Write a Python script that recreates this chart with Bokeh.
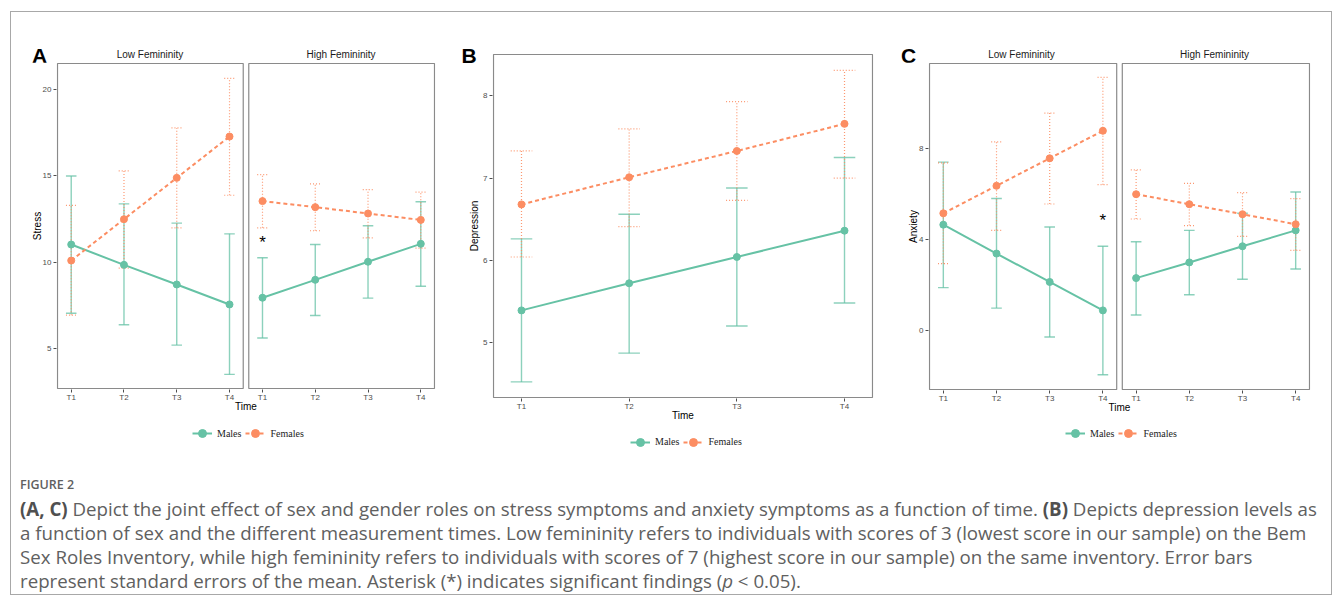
from bokeh.plotting import figure
from bokeh.models import Range1d, FixedTicker, BoxAnnotation, Label, Legend, LegendItem, Div, Spacer
from bokeh.layouts import row, column
from bokeh.embed import file_html
from bokeh.resources import INLINE

# ---------------- data ----------------
times = ["T1", "T2", "T3", "T4"]
facets = ["Low Femininity", "High Femininity"]
sexes = ["Males", "Females"]

# (A) Stress
stress_low_m = [11.02, 9.84, 8.70, 7.54]
stress_low_m_lo = [7.03, 6.36, 5.18, 3.48]
stress_low_m_hi = [15.00, 13.38, 12.26, 11.64]
stress_low_f = [10.09, 12.49, 14.89, 17.29]
stress_low_f_lo = [6.92, 9.65, 11.99, 13.88]
stress_low_f_hi = [13.29, 15.30, 17.79, 20.67]
stress_high_m = [7.93, 8.97, 10.02, 11.06]
stress_high_m_lo = [5.59, 6.90, 7.91, 8.60]
stress_high_m_hi = [10.25, 11.02, 12.11, 13.50]
stress_high_f = [13.54, 13.19, 12.82, 12.45]
stress_high_f_lo = [11.99, 11.82, 11.41, 10.81]
stress_high_f_hi = [15.08, 14.54, 14.21, 14.06]
stress_ticks = [5, 10, 15, 20]

# (B) Depression
dep_m = [5.39, 5.72, 6.04, 6.36]
dep_m_lo = [4.52, 4.87, 5.20, 5.48]
dep_m_hi = [6.26, 6.56, 6.88, 7.25]
dep_f = [6.68, 7.01, 7.33, 7.66]
dep_f_lo = [6.04, 6.41, 6.73, 7.00]
dep_f_hi = [7.33, 7.60, 7.93, 8.31]
dep_ticks = [5, 6, 7, 8]

# (C) Anxiety
anx_low_m = [4.65, 3.38, 2.13, 0.88]
anx_low_m_lo = [1.88, 0.98, -0.29, -1.95]
anx_low_m_hi = [7.40, 5.80, 4.55, 3.70]
anx_low_f = [5.15, 6.36, 7.57, 8.78]
anx_low_f_lo = [2.94, 4.40, 5.56, 6.41]
anx_low_f_hi = [7.37, 8.29, 9.56, 11.13]
anx_high_m = [2.30, 2.99, 3.70, 4.40]
anx_high_m_lo = [0.68, 1.57, 2.25, 2.70]
anx_high_m_hi = [3.90, 4.40, 5.15, 6.09]
anx_high_f = [5.99, 5.55, 5.11, 4.67]
anx_high_f_lo = [4.90, 4.61, 4.14, 3.52]
anx_high_f_hi = [7.06, 6.47, 6.06, 5.80]
anx_ticks = [0, 4, 8]

# ---------------- styling ----------------
GREEN = "#66C2A5"
ORANGE = "#FC8D62"
FRAME = "#8a8a8a"
TICKC = "#4d4d4d"
FONT = "Liberation Sans"
SERIF = "Liberation Serif"

PAD = 0.26
CAP = 0.1
HIGH_OFFSET = 3.625
AXIS_H = 30
pos_low = [i + 1 for i in range(len(times))]
pos_high = [i + 1 + HIGH_OFFSET for i in range(len(times))]
FX0, FX1 = 1 - PAD, 4 + HIGH_OFFSET + PAD   # faceted x extent


def padded(lo, hi, npx):
    d = (hi - lo) / npx
    return Range1d(lo - d, hi + d)


def base_fig(width, height, left, right, xr, yr, yticks, ylabel):
    p = figure(width=width, height=height, x_range=xr, y_range=yr,
               output_backend="svg", toolbar_location=None,
               min_border_left=left, min_border_right=right,
               min_border_top=0, min_border_bottom=AXIS_H)
    p.xgrid.visible = False
    p.ygrid.visible = False
    p.outline_line_color = None
    p.background_fill_color = "white"
    p.border_fill_color = "white"
    for ax in (p.xaxis[0], p.yaxis[0]):
        ax.axis_line_color = None
        ax.major_tick_line_color = TICKC
        ax.major_tick_in = 0
        ax.major_tick_out = 3
        ax.minor_tick_line_color = None
        ax.major_label_text_font = FONT
        ax.major_label_text_font_size = "8px"
        ax.major_label_text_color = TICKC
        ax.axis_label_text_font = FONT
        ax.axis_label_text_font_size = "10px"
        ax.axis_label_text_font_style = "normal"
        ax.axis_label_text_color = "black"
    p.xaxis[0].major_label_standoff = 0
    p.xaxis[0].axis_label_standoff = -4
    p.yaxis[0].major_label_standoff = 2
    p.yaxis[0].axis_label_standoff = -3
    p.yaxis[0].ticker = FixedTicker(ticks=yticks)
    if ylabel:
        p.yaxis[0].axis_label = ylabel
    p.xaxis[0].axis_label = "Time"
    return p


def box(p, x0, x1, y0, y1):
    p.add_layout(BoxAnnotation(left=x0, right=x1, bottom=y0, top=y1,
                               fill_color=None, fill_alpha=0,
                               line_color=FRAME, line_alpha=1, line_width=1.2))


def set_xticks(p, ticks, labels):
    overrides = {}
    for t, l in zip(ticks, labels):
        overrides[float(t)] = l
        overrides[repr(t)] = l
        if float(t).is_integer():
            overrides[str(int(t))] = l
    p.xaxis[0].ticker = FixedTicker(ticks=ticks)
    p.xaxis[0].major_label_overrides = overrides


def errorbars(p, xs, lo, hi, color, female):
    kw = dict(line_color=color, line_width=1.2 if female else 1.4,
              line_alpha=0.9 if female else 0.75,
              line_dash="1 2" if female else "solid")
    p.segment(x0=xs, y0=lo, x1=xs, y1=hi, **kw)
    p.segment(x0=[x - CAP for x in xs], y0=lo, x1=[x + CAP for x in xs], y1=lo, **kw)
    p.segment(x0=[x - CAP for x in xs], y0=hi, x1=[x + CAP for x in xs], y1=hi, **kw)


def line_kw(color, female):
    return dict(line_color=color, line_width=2, line_dash="4 3" if female else "solid")


def series(p, xs, ys, color, female):
    ln = p.line(xs, ys, **line_kw(color, female))
    sc = p.scatter(xs, ys, size=7, fill_color=color, line_color=color)
    return ln, sc


def legend_fig(width, height, left, right, loc, ym, yf):
    """Strip under a panel that holds the Males / Females key.
    Its ranges sit away from the data, so only the key itself is visible."""
    q = figure(width=width, height=height, x_range=Range1d(-3, -2), y_range=Range1d(-3, -2),
               output_backend="svg", toolbar_location=None,
               x_axis_location=None, y_axis_location=None,
               min_border_left=left, min_border_right=right,
               min_border_top=0, min_border_bottom=0)
    q.xgrid.visible = False
    q.ygrid.visible = False
    q.outline_line_color = None
    q.background_fill_color = "white"
    q.border_fill_color = "white"
    rm = series(q, pos_low, ym, GREEN, False)
    rf = series(q, pos_low, yf, ORANGE, True)
    items = [LegendItem(label=sexes[0], renderers=list(rm)),
             LegendItem(label=sexes[1], renderers=list(rf))]
    q.add_layout(Legend(items=items, orientation="horizontal", location=loc,
                        padding=0, spacing=4, margin=0,
                        glyph_width=20, glyph_height=20, label_standoff=5,
                        label_text_font=SERIF, label_text_font_size="10px",
                        label_text_color="#222222",
                        border_line_color=None, background_fill_alpha=0))
    return q


def star(p, x, y):
    p.add_layout(Label(x=x, y=y, text="*", text_font=FONT, text_font_size="17px",
                       text_align="center", text_baseline="alphabetic",
                       y_offset=-2, text_color="black"))


def faceted(width, left, right, frame_w, ylo, yhi, frame_h, yticks, ylabel, low, high, star_xy):
    xr = padded(FX0, FX1, frame_w)
    yr = padded(ylo, yhi, frame_h)
    p = base_fig(width, frame_h + 2 + AXIS_H, left, right, xr, yr, yticks, ylabel)
    set_xticks(p, pos_low + pos_high, times + times)
    box(p, 1 - PAD, 4 + PAD, ylo, yhi)
    box(p, 1 + HIGH_OFFSET - PAD, 4 + HIGH_OFFSET + PAD, ylo, yhi)
    (lm, lm_lo, lm_hi, lf, lf_lo, lf_hi) = low
    (hm, hm_lo, hm_hi, hf, hf_lo, hf_hi) = high
    errorbars(p, pos_low, lm_lo, lm_hi, GREEN, False)
    errorbars(p, pos_low, lf_lo, lf_hi, ORANGE, True)
    errorbars(p, pos_high, hm_lo, hm_hi, GREEN, False)
    errorbars(p, pos_high, hf_lo, hf_hi, ORANGE, True)
    series(p, pos_low, lm, GREEN, False)
    series(p, pos_low, lf, ORANGE, True)
    series(p, pos_high, hm, GREEN, False)
    series(p, pos_high, hf, ORANGE, True)
    star(p, *star_xy)
    return p


def span(text, cx, cy, size, weight="normal", color="black", font=FONT, rotate=False):
    lh = round(size * 1.2)
    tr = "translate(-50%,-50%)" + (" rotate(-90deg)" if rotate else "")
    return (f"<span style=\"position:absolute;left:{cx}px;top:{cy}px;transform:{tr};"
            f"font-family:'{font}';font-size:{size}px;font-weight:{weight};color:{color};"
            f"line-height:{lh}px;white-space:nowrap;\">{text}</span>")


def header(width, height, parts):
    html = (f"<div style=\"position:relative;width:{width}px;height:{height}px;\">"
            + "".join(parts) + "</div>")
    return Div(text=html, width=width, height=height, margin=0)


# ---------- panel A ----------
pA = faceted(451, 45, 27, 377, 2.66, 21.53, 325, stress_ticks, "Stress",
             (stress_low_m, stress_low_m_lo, stress_low_m_hi,
              stress_low_f, stress_low_f_lo, stress_low_f_hi),
             (stress_high_m, stress_high_m_lo, stress_high_m_hi,
              stress_high_f, stress_high_f_lo, stress_high_f_hi),
             (pos_high[0], 11.25))
hdrA = header(451, 50, [span("A", 28.5, 42.5, 21, "bold"),
                        span(facets[0], 139, 43, 10, color="#1a1a1a"),
                        span(facets[1], 330, 43, 10, color="#1a1a1a")])
legA = legend_fig(451, 43, 45, 27, (136, 18.7), stress_low_m, stress_low_f)
colA = column(hdrA, pA, legA, spacing=0)

# ---------- panel B ----------
pB = base_fig(410, 345 + AXIS_H, 10, 17, padded(1 - PAD, 4 + PAD, 381),
              padded(4.33, 8.504, 343), dep_ticks, None)
set_xticks(pB, pos_low, times)
box(pB, 1 - PAD, 4 + PAD, 4.33, 8.504)
errorbars(pB, pos_low, dep_m_lo, dep_m_hi, GREEN, False)
errorbars(pB, pos_low, dep_f_lo, dep_f_hi, ORANGE, True)
series(pB, pos_low, dep_m, GREEN, False)
series(pB, pos_low, dep_f, ORANGE, True)
divB = header(18, 450, [span("B", 7, 43, 21, "bold"),
                        span("Depression", 13, 214, 10, rotate=True)])
legB = legend_fig(410, 34, 10, 17, (138, 10.3), dep_m, dep_f)
colB = row(divB, column(Spacer(width=410, height=41), pB, legB, spacing=0), spacing=0)

# ---------- panel C ----------
pC = faceted(441, 38, 21, 380, -2.60, 11.74, 326, anx_ticks, "Anxiety",
             (anx_low_m, anx_low_m_lo, anx_low_m_hi,
              anx_low_f, anx_low_f_lo, anx_low_f_hi),
             (anx_high_m, anx_high_m_lo, anx_high_m_hi,
              anx_high_f, anx_high_f_lo, anx_high_f_hi),
             (pos_low[3], 4.92))
hdrC = header(441, 50, [span("C", 18.5, 42.5, 21, "bold"),
                        span(facets[0], 131.5, 43, 10, color="#1a1a1a"),
                        span(facets[1], 324.5, 43, 10, color="#1a1a1a")])
legC = legend_fig(441, 42, 38, 21, (137, 18.7), anx_low_m, anx_low_f)
colC = column(hdrC, pC, legC, spacing=0)

# ---------- caption ----------
cap_html = (
    "<div style='font-family:\"Open Sans\",sans-serif;color:#606060;margin:11px 0 0 9px;'>"
    "<div style='font-size:12.5px;font-weight:600;line-height:24px;color:#606060'>FIGURE 2</div>"
    "<div style='font-size:18.7px;line-height:24px;white-space:nowrap'>"
    "<b style='color:#505050'>(A, C)</b> Depict the joint effect of sex and gender roles on stress symptoms "
    "and anxiety symptoms as a function of time. <b style='color:#505050'>(B)</b> Depicts depression levels as<br>"
    "a function of sex and the different measurement times. Low femininity refers to individuals with "
    "scores of 3 (lowest score in our sample) on the Bem<br>"
    "Sex Roles Inventory, while high femininity refers to individuals with scores of 7 (highest score "
    "in our sample) on the same inventory. Error bars<br>"
    "represent standard errors of the mean. Asterisk (*) indicates significant findings "
    "(<i>p</i> &lt; 0.05)."
    "</div></div>"
)
caption = Div(text=cap_html, width=1320, height=132, margin=0)

layout = column(row(colA, colB, colC, spacing=0), caption, spacing=0,
                margin=(11, 0, 0, 10), styles={"border": "1px solid #a8a8a8"})

open("out.html", "w").write(file_html(layout, INLINE))
